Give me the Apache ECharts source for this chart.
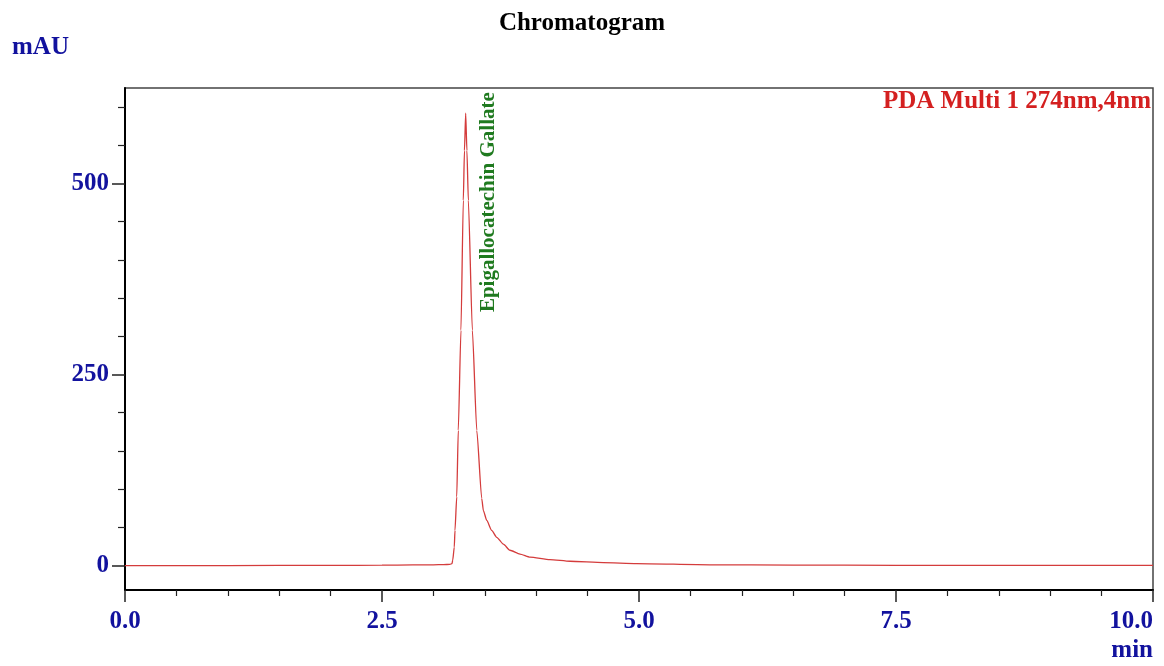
<!DOCTYPE html>
<html>
<head>
<meta charset="utf-8">
<script src="https://cdn.jsdelivr.net/npm/echarts@6/dist/echarts.min.js"></script>
<style>
html,body{margin:0;padding:0;background:#fff;}
#main{width:1164px;height:666px;}
</style>
</head>
<body>
<div id="main"></div>
<script>
// ---- data ----
const times  = [0, 1.0, 2.0, 2.5, 2.8, 3.0, 3.1, 3.16, 3.181, 3.188, 3.203, 3.210, 3.227, 3.242, 3.268, 3.291, 3.302, 3.314, 3.326, 3.340, 3.379, 3.422, 3.470, 3.486, 3.519, 3.567, 3.616, 3.680, 3.745, 3.842, 3.940, 4.134, 4.329, 4.653, 4.977, 5.69, 6.5, 7.5, 8.5, 10.0];
const values = [0, 0, 0.2, 0.5, 0.8, 1.0, 1.2, 1.5, 2.5, 7, 24, 46, 90, 177, 308, 478, 543, 592, 543, 478, 308, 177, 88, 72, 59, 46, 37, 28, 20, 15, 11, 7.8, 5.6, 3.9, 2.6, 1.0, 0.6, 0.3, 0.2, 0.1];
const yMajorTicks = [0, 250, 500];
const yMinorTicks = [50, 100, 150, 200, 300, 350, 400, 450, 550, 600];
const peakName = 'Epigallocatechin Gallate';
const peakTime = 3.314, peakValue = 592;
const titleText = 'Chromatogram';
const channelText = 'PDA Multi 1 274nm,4nm';

const blue = '#12129e';
const font = '"Liberation Serif", "Times New Roman", serif';

const chart = echarts.init(document.getElementById('main'));
const seriesData = times.map((t, i) => [t, values[i]]);

const yCommon = {
  type: 'value', min: -32, max: 625, position: 'left',
  splitLine: {show: false}
};

function graphics(p) {
  const g = [
    {type: 'text', left: 12, top: 35,
     style: {text: 'mAU', font: 'bold 25px ' + font, fill: blue}},
    {type: 'text', right: 11, top: 638,
     style: {text: 'min', font: 'bold 25px ' + font, fill: blue}},
    {type: 'text', right: 13, top: 89,
     style: {text: channelText, font: 'bold 25px ' + font, fill: '#d42020'}}
  ];
  if (p) {
    g.push({type: 'text', x: p[0] + 23, y: p[1] - 21, rotation: Math.PI / 2,
     style: {text: peakName, font: 'bold 21px ' + font, fill: '#1f7a1f',
             align: 'right', verticalAlign: 'middle'}});
  }
  return g;
}

chart.setOption({
  animation: false,
  backgroundColor: '#fff',
  title: {
    text: titleText, left: 'center', top: 6,
    textStyle: {fontFamily: font, fontWeight: 'bold', fontSize: 25, color: '#000'}
  },
  grid: {
    left: 125, right: 11, top: 88, bottom: 76,
    show: true, borderColor: '#444', borderWidth: 1.5, backgroundColor: 'transparent'
  },
  xAxis: {
    type: 'value', min: 0, max: 10, interval: 2.5,
    axisLine: {onZero: false, lineStyle: {color: '#000', width: 2}},
    axisTick: {length: 12, lineStyle: {color: '#222', width: 1.5}},
    minorTick: {show: true, splitNumber: 5, length: 6, lineStyle: {color: '#222', width: 1.2}},
    splitLine: {show: false},
    axisLabel: {
      margin: 19, fontFamily: font, fontWeight: 'bold', fontSize: 25, color: blue,
      formatter: v => v.toFixed(1), alignMaxLabel: 'right'
    }
  },
  yAxis: [
    Object.assign({}, yCommon, {
      axisLine: {show: true, onZero: false, lineStyle: {color: '#000', width: 2}},
      axisTick: {show: true, length: 13, customValues: yMajorTicks, lineStyle: {color: '#222', width: 1.5}},
      axisLabel: {
        customValues: yMajorTicks, margin: 16,
        fontFamily: font, fontWeight: 'bold', fontSize: 25, color: blue
      }
    }),
    Object.assign({}, yCommon, {
      axisLine: {show: false},
      axisTick: {show: true, length: 7, customValues: yMinorTicks, lineStyle: {color: '#222', width: 1.2}},
      axisLabel: {show: false}
    })
  ],
  graphic: graphics(null),
  series: [{
    type: 'line',
    data: seriesData,
    showSymbol: false,
    smooth: 0.2,
    smoothMonotone: 'x',
    lineStyle: {color: '#d43c3c', width: 1.3},
    itemStyle: {color: '#d43c3c'},
    silent: true
  }]
});

const p = chart.convertToPixel({xAxisIndex: 0, yAxisIndex: 0}, [peakTime, peakValue]);
chart.setOption({graphic: graphics(p)}, {replaceMerge: ['graphic']});
</script>
</body>
</html>
